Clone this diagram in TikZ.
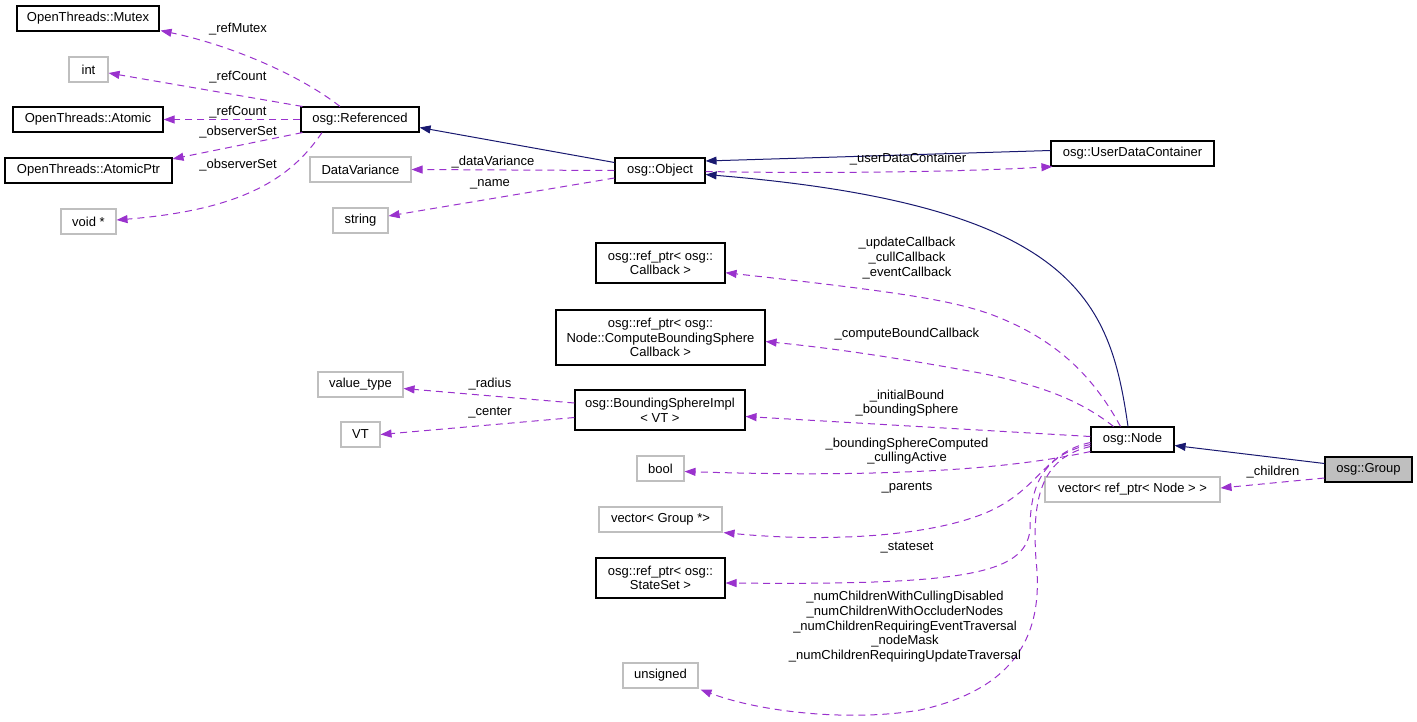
\documentclass[tikz,border=0pt]{standalone}
\usepackage{fontspec}
\setmainfont{Liberation Sans}
\usetikzlibrary{arrows.meta,calc}
\definecolor{inhblue}{HTML}{191970}
\definecolor{usepurple}{HTML}{9A32CD}
\definecolor{extgray}{HTML}{BFBFBF}
\tikzset{
  cls/.style={draw=black, line width=1.1pt, inner sep=0pt, align=center},
  ext/.style={draw=extgray, line width=1.1pt, inner sep=0pt, align=center},
  inh/.style={draw=inhblue, line width=1pt, -{Triangle[length=11pt,width=8pt]}},
  use/.style={draw=usepurple, line width=1pt, dash pattern=on 7pt off 5pt, -{Triangle[length=11pt,width=8pt]}},
  lbl/.style={inner sep=0pt, align=center}
}

\begin{document}
\begin{tikzpicture}[x=1pt,y=-1pt,
  every node/.append style={font=\fontsize{13}{14.6}\selectfont}]
\useasboundingbox (0,0) rectangle (1417,721);

% classes
\node[cls, minimum width=142pt, minimum height=25pt] (mutex) at (88,18.5) {OpenThreads::Mutex};
\node[ext, minimum width=39pt, minimum height=25pt] (intT) at (88.5,69.5) {int};
\node[cls, minimum width=150pt, minimum height=25pt] (atomic) at (88,119.5) {OpenThreads::Atomic};
\node[cls, minimum width=167pt, minimum height=25pt] (atomicptr) at (88.5,170.5) {OpenThreads::AtomicPtr};
\node[ext, minimum width=55pt, minimum height=25pt] (voidp) at (88.5,221.5) {void *};
\node[cls, minimum width=118pt, minimum height=25pt] (refd) at (360,119.5) {osg::Referenced};
\node[ext, minimum width=101pt, minimum height=25pt] (datavar) at (360.5,169.5) {DataVariance};
\node[ext, minimum width=55pt, minimum height=25pt] (strT) at (360.5,220.5) {string};
\node[cls, minimum width=90pt, minimum height=25pt] (object) at (660,170.5) {osg::Object};
\node[cls, minimum width=163pt, minimum height=25pt] (udc) at (1132.5,153.5) {osg::UserDataContainer};
\node[cls, minimum width=129pt, minimum height=40pt] (cbptr) at (660.5,263) {osg::ref\_ptr< osg::\\Callback >};
\node[cls, minimum width=209pt, minimum height=55pt] (cbsptr) at (660.5,337.5) {osg::ref\_ptr< osg::\\Node::ComputeBoundingSphere\\Callback >};
\node[cls, minimum width=170pt, minimum height=40pt] (bsimpl) at (660,410) {osg::BoundingSphereImpl\\< VT >};
\node[ext, minimum width=85pt, minimum height=25pt] (valtype) at (360.5,384.5) {value\_type};
\node[ext, minimum width=39pt, minimum height=25pt] (vt) at (360.5,434.5) {VT};
\node[ext, minimum width=47pt, minimum height=25pt] (boolT) at (660.5,468.5) {bool};
\node[ext, minimum width=123pt, minimum height=25pt] (vecgrp) at (660.5,519.5) {vector< Group *>};
\node[cls, minimum width=129pt, minimum height=40pt] (ssptr) at (660.5,578) {osg::ref\_ptr< osg::\\StateSet >};
\node[ext, minimum width=75pt, minimum height=25pt] (unsig) at (660.5,675.5) {unsigned};
\node[cls, minimum width=83pt, minimum height=25pt] (node) at (1132.5,439.5) {osg::Node};
\node[ext, minimum width=175pt, minimum height=25pt] (vecnode) at (1132.5,489.5) {vector< ref\_ptr< Node > >};
\node[cls, fill=extgray, minimum width=87pt, minimum height=25pt] (group) at (1368.5,469.5) {osg::Group};

% inheritance
\draw[inh] ($(object.west)+(0,-8)$) -- ($(refd.east)+(0,8)$);
\draw[inh] ($(udc.west)+(0,-3)$) -- ($(object.east)+(0,-9.5)$);
\draw[inh] ($(node.north)+(-4.5,0)$) .. controls (1110,300) and (1075,205) .. ($(object.east)+(0,4)$);
\draw[inh] ($(group.west)+(0,-6)$) -- ($(node.east)+(0,6)$);

% members of osg::Referenced
\draw[use] ($(refd.north)+(-20,0)$) .. controls (300,75) and (230,45) .. ($(mutex.south east)+(1,-1)$);
\draw[use] ($(refd.north west)+(2,0)$) -- ($(intT.east)+(0,3.5)$);
\draw[use] (refd.west) -- (atomic.east);
\draw[use] ($(refd.south west)+(2,0)$) -- ($(atomicptr.north east)+(0,1.5)$);
\draw[use] ($(refd.south)+(-38,0)$) .. controls (290,180) and (240,210) .. ($(voidp.east)+(0,-1.5)$);
\node[lbl] (lMutex) at (238,29) {\_refMutex};
\node[lbl] (lCount) at (238,76.7) {\_refCount};
\node[lbl] (lCount2) at (238,111.7) {\_refCount};
\node[lbl] (lObs) at (238,131.7) {\_observerSet};
\node[lbl] (lObs2) at (238,165) {\_observerSet};

% members of osg::Object
\draw[use] (object.west) -- (datavar.east);
\draw[use] ($(object.west)+(0,7.5)$) -- ($(strT.east)+(0,-4.5)$);
\draw[use] ($(object.east)+(0,1)$) .. controls (850,174) and (980,171) .. ($(udc.south west)+(2,0)$);
\node[lbl] (lVar) at (493,162) {\_dataVariance};
\node[lbl] (lName) at (490,184) {\_name};
\node[lbl] (lUdc) at (908,159) {\_userDataContainer};

% members of osg::BoundingSphereImpl
\draw[use] ($(bsimpl.west)+(0,-7)$) -- ($(valtype.east)+(0,4)$);
\draw[use] ($(bsimpl.west)+(0,7.5)$) -- (vt.east);
\node[lbl] (lRad) at (490,384) {\_radius};
\node[lbl] (lCen) at (490,412.7) {\_center};

% members of osg::Node
\draw[use] ($(node.north)+(-12,0)$) .. controls (1095,380) and (1060,340) .. (990,314)
  .. controls (950,300) and (900,292) .. ($(cbptr.east)+(0,9.7)$);
\draw[use] ($(node.north)+(-19,0)$) .. controls (1080,400) and (1040,385) .. (980,373)
  .. controls (920,362) and (850,350) .. ($(cbsptr.east)+(0,4)$);
\draw[use] ($(node.west)+(0,-3)$) -- ($(bsimpl.east)+(0,6.5)$);
\draw[use] ($(node.south west)+(0,-1)$) .. controls (1050,460) and (950,480) .. ($(boolT.east)+(0,3)$);
\draw[use] ($(node.west)+(0,3)$) .. controls (1045,452) and (1040,488) .. (990,511)
  .. controls (930,538) and (820,542) .. ($(vecgrp.south east)+(1,0)$);
\draw[use] ($(node.west)+(0,5)$) .. controls (1040,455) and (1030,490) .. (1030,530)
  .. controls (1025,575) and (960,585) .. ($(ssptr.east)+(0,5)$);
\draw[use] ($(node.west)+(0,7)$) .. controls (1040,458) and (1032,500) .. (1036,560)
  .. controls (1045,640) and (1010,690) .. (920,710)
  .. controls (850,722) and (760,712) .. ($(unsig.south east)+(2,1)$);
\node[lbl] (lCb) at (907,258) {\_updateCallback\\\_cullCallback\\\_eventCallback};
\node[lbl] (lCbs) at (907,334.3) {\_computeBoundCallback};
\node[lbl] (lBound) at (907,403) {\_initialBound\\\_boundingSphere};
\node[lbl] (lBool) at (907,451) {\_boundingSphereComputed\\\_cullingActive};
\node[lbl] (lPar) at (907,487.7) {\_parents};
\node[lbl] (lSs) at (907,547.7) {\_stateset};
\node[lbl] (lNum) at (905,626.7) {\_numChildrenWithCullingDisabled\\\_numChildrenWithOccluderNodes\\\_numChildrenRequiringEventTraversal\\\_nodeMask\\\_numChildrenRequiringUpdateTraversal};

% members of osg::Group
\draw[use] ($(group.west)+(0,8.5)$) -- ($(vecnode.east)+(0,-1.5)$);
\node[lbl] (lChild) at (1273,472.3) {\_children};
\end{tikzpicture}
\end{document}
